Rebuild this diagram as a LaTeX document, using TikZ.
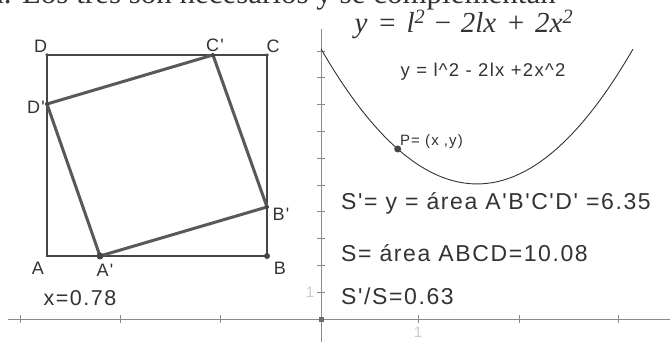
\documentclass[tikz,border=0pt]{standalone}
\usepackage{fontspec}
\setmainfont{Liberation Serif}
\newfontfamily\gsans[LetterSpace=7]{Liberation Sans}
\definecolor{ink}{HTML}{333333}
\definecolor{edge}{HTML}{464646}
\definecolor{axis}{HTML}{8A8A8A}
\tikzset{
  sq/.style={draw=edge, line width=2.6pt, line join=miter},
  inner/.style={draw=edge!90, line width=3pt, line join=round},
  ptlabel/.style={text=ink, font=\gsans\fontsize{18}{18}\selectfont, inner sep=0pt},
  bigtext/.style={text=ink, font=\gsans\fontsize{23}{23}\selectfont, inner sep=0pt, anchor=west},
  dot/.style={circle, fill=edge, inner sep=0pt, minimum size=#1},
  axisline/.style={draw=axis, line width=0.9pt},
  tick/.style={draw=axis, line width=0.8pt},
}
\begin{document}
\begin{tikzpicture}[x=1pt, y=-1pt]
\useasboundingbox (0,0) rectangle (670,342);
\fill[white] (0,0) rectangle (670,342);
\clip (0,0) rectangle (670,342);

% partial heading line
\node[anchor=base east, inner sep=0pt, text=ink, font=\fontsize{31}{31}\selectfont] (head) at (556,4) {a. Los tres son necesarios y se complementan};

% axes
\coordinate (xl) at (8,319);
\coordinate (xr) at (670,319);
\coordinate (yt) at (321,29);
\coordinate (yb) at (321,342);
\draw[axisline] (xl) -- (xr);
\draw[axisline] (yt) -- (yb);
\foreach \tx in {20,120,220,418,519,618} \draw[tick] (\tx,315) -- (\tx,323);
\foreach \k in {1,...,10} \draw[tick] (317,{319-26.8*\k}) -- (325,{319-26.8*\k});
\node[fill=edge!80, inner sep=0pt, minimum size=5pt] (origin) at (321,319) {};
\node[text=black!20, font=\gsans\fontsize{15}{15}\selectfont, inner sep=0pt] (ylab) at (310,292) {1};
\node[text=black!20, font=\gsans\fontsize{15}{15}\selectfont, inner sep=0pt] (xlab) at (418,332) {1};

% parabola
\draw[ink, line width=0.9pt] plot[domain=0:3.175, samples=80, smooth] ({321+98.3*\x}, {319-26.8*(10.08-6.35*\x+2*\x*\x)});
\node[dot=7pt] (P) at (397.7,149) {};
\node[ptlabel, anchor=west, font=\gsans\fontsize{15}{15}\selectfont] (Plab) at (400,142) {P= (x ,y)};

% square ABCD
\coordinate (A) at (47,256);
\coordinate (B) at (267,256);
\coordinate (C) at (267,55);
\coordinate (D) at (47,55);
\draw[sq] (A) -- (B) -- (C) -- (D) -- cycle;
% inner square
\coordinate (A1) at (100,256);
\coordinate (B1) at (267,207);
\coordinate (C1) at (213,55);
\coordinate (D1) at (47,104);
\draw[inner] (A1) -- (B1) -- (C1) -- (D1) -- cycle;
\node[dot=7pt] (dA1) at (A1) {};
\node[dot=6pt] (dB) at (B) {};
\node[dot=4pt] (dB1) at (B1) {};
\node[dot=4pt] (dC1) at (C1) {};
\node[dot=4pt] (dD1) at (D1) {};
\node[dot=3.5pt] (dC) at (C) {};
\node[dot=3.5pt] (dD) at (D) {};

% point labels
\node[ptlabel] (lD) at (40.5,46) {D};
\node[ptlabel] (lC1) at (215,45) {C'};
\node[ptlabel] (lC) at (273,46) {C};
\node[ptlabel] (lD1) at (36,107) {D'};
\node[ptlabel] (lB1) at (281,214) {B'};
\node[ptlabel] (lA) at (38,268) {A};
\node[ptlabel] (lA1) at (105,270) {A'};
\node[ptlabel] (lB) at (280,268) {B};
\node[ptlabel, font=\gsans\fontsize{21.5}{21.5}\selectfont] (xval) at (80,298.5) {x=0.78};

% formulas
\node[anchor=base, inner sep=0pt, text=ink, font=\fontsize{29}{29}\selectfont\itshape] (formula) at (464,33)
  {y\,\,=\,\,l\textsuperscript{2}\,\,\textup{−}\,\,2lx\,\,+\,\,2x\textsuperscript{2}};
\node[ptlabel, font=\gsans\fontsize{18.5}{18.5}\selectfont] (gformula) at (483,72) {y = l\^{}2 - 2lx +2x\^{}2};

% results
\node[bigtext] (Sp) at (341,203) {S'= y = área A'B'C'D' =6.35};
\node[bigtext] (S) at (341,253) {S= área ABCD=10.08};
\node[bigtext] (ratio) at (341,296) {S'/S=0.63};
\end{tikzpicture}
\end{document}
